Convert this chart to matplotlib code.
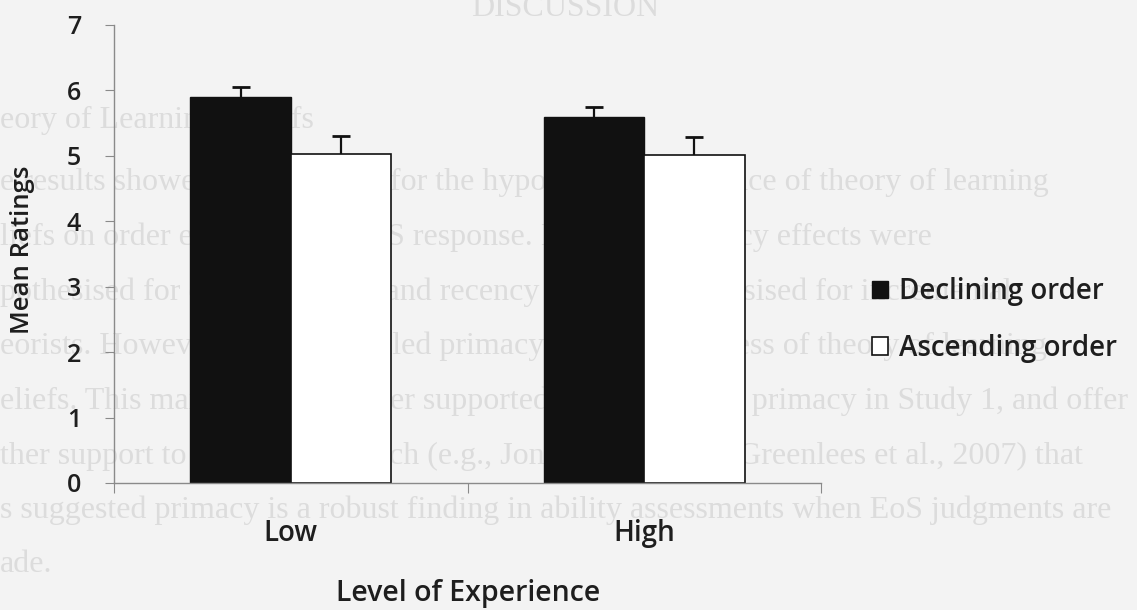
import numpy as np
import matplotlib
matplotlib.use('Agg')
import matplotlib.pyplot as plt

# Values
categories = ['Low', 'High']
series_names = ['Declining order', 'Ascending order']
declining = [5.90, 5.60]
ascending = [5.03, 5.02]
declining_err = [0.15, 0.15]
ascending_err = [0.27, 0.27]
y_ticks = [0, 1, 2, 3, 4, 5, 6, 7]

# faint text showing through from the page behind (scan bleed-through)
page_lines = [
    (565, 9, 'DISCUSSION', 'center'),
    (0, 120, 'eory of Learning Beliefs', 'left'),
    (0, 182, 'e results showed little support for the hypothesised influence of theory of learning', 'left'),
    (0, 237, 'liefs on order effects in the EoS response. In effect, primacy effects were', 'left'),
    (0, 292, 'pothesised for entity theorists and recency effects hypothesised for incremental', 'left'),
    (0, 346, 'eorists. However, results revealed primacy effects regardless of theory of learning', 'left'),
    (0, 401, 'eliefs. This main effect for order supported the findings of primacy in Study 1, and offer', 'left'),
    (0, 456, 'ther support to previous research (e.g., Jones et al., 1968; Greenlees et al., 2007) that', 'left'),
    (0, 510, 's suggested primacy is a robust finding in ability assessments when EoS judgments are', 'left'),
    (0, 565, 'ade.', 'left'),
]

W, H = 1137, 610
plt.rcParams['font.family'] = ['Open Sans', 'DejaVu Sans']
plt.rcParams['font.weight'] = 'semibold'
ink = '#1e1e1e'

fig = plt.figure(figsize=(W / 100, H / 100), dpi=100, facecolor='#f3f3f3')
ax = fig.add_axes([114 / W, 1 - 483 / H, (821 - 114) / W, (483 - 25) / H])
ax.patch.set_alpha(0)

for px, py, txt, ha in page_lines:
    fig.text(px / W, 1 - py / H, txt, ha=ha, va='center', fontsize=23,
             family='Liberation Serif', weight='normal', color='#dcdcdc', zorder=-5)

x = np.arange(len(categories)) + 0.5
width = 0.284

b1 = ax.bar(x - width / 2, declining, width, color='#111111', edgecolor='#111111',
            linewidth=1, label=series_names[0], zorder=2)
b2 = ax.bar(x + width / 2, ascending, width, color='white', edgecolor='#111111',
            linewidth=1.2, label=series_names[1], zorder=2)

# upper error bars only
for xs, vals, errs in [(x - width / 2, declining, declining_err),
                       (x + width / 2, ascending, ascending_err)]:
    _, caps, _ = ax.errorbar(xs, vals, yerr=[np.zeros(len(errs)), errs], fmt='none',
                             ecolor='#111111', elinewidth=1.6, capsize=6.5,
                             capthick=2, zorder=3)
    caps[0].set_visible(False)

ax.set_xlim(0, 2)
ax.set_ylim(0, 7)
ax.set_yticks(y_ticks)
ax.set_xticks([0, 1, 2])
ax.set_xticklabels([])
ax.set_xticks(x, minor=True)
ax.set_xticklabels(categories, minor=True)

for s in ['top', 'right']:
    ax.spines[s].set_visible(False)
for s in ['left', 'bottom']:
    ax.spines[s].set_color('#8a8a8a')
    ax.spines[s].set_linewidth(1)

ax.tick_params(axis='y', length=6.5, color='#8a8a8a', pad=17, labelsize=18,
               labelcolor=ink)
ax.tick_params(axis='x', which='major', length=7, color='#8a8a8a')
ax.tick_params(axis='x', which='minor', length=0, pad=26, labelsize=20,
               labelcolor=ink)

fig.text(23 / W, 1 - 250 / H, 'Mean Ratings', rotation=90, ha='center', va='center',
         fontsize=18.5, color=ink)
fig.text(468 / W, 1 - 594 / H, 'Level of Experience', ha='center', va='center',
         fontsize=20.5, color=ink)

leg = ax.legend(handles=[b1, b2], loc='center left',
                bbox_to_anchor=(872 / W, 1 - 320 / H), bbox_transform=fig.transFigure,
                frameon=False, fontsize=20, handlelength=0.58, handleheight=0.58,
                handletextpad=0.4, labelspacing=1.0, borderpad=0, borderaxespad=0)
for t in leg.get_texts():
    t.set_color(ink)

fig.savefig('out.png', dpi=100, facecolor=fig.get_facecolor())
